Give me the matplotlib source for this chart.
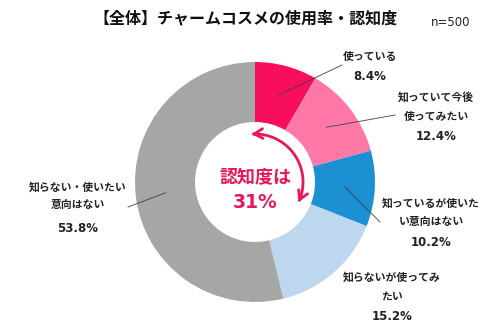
import numpy as np
import matplotlib.pyplot as plt
from matplotlib.patches import FancyArrowPatch
from matplotlib.path import Path

plt.rcParams['font.family'] = ['DejaVu Sans', 'Noto Sans CJK JP']

# data
categories = ['使っている', '知っていて今後使ってみたい', '知っているが使いたい意向はない',
              '知らないが使ってみたい', '知らない・使いたい意向はない']
shares = [8.4, 12.4, 10.2, 15.2, 53.8]
label_lines = [['使っている'], ['知っていて今後', '使ってみたい'], ['知っているが使いた', 'い意向はない'],
               ['知らないが使ってみ', 'たい'], ['知らない・使いたい', '意向はない']]
colors = ['#F80F5B', '#FF78A8', '#1D8FD3', '#BDD7EE', '#A6A6A6']
awareness = 31

W, H = 500, 330
cx, cy = 255, H - 182   # pie centre (pixels)
R = 120

fig = plt.figure(figsize=(5, 3.3), dpi=100)
ax = fig.add_axes([0, 0, 1, 1])

wedges, _ = ax.pie(shares, colors=colors, startangle=90, counterclock=False,
                   center=(cx, cy), radius=R,
                   wedgeprops=dict(width=R * 0.5, linewidth=0))
ax.set_xlim(0, W)
ax.set_ylim(0, H)
ax.set_aspect('equal')
ax.axis('off')

# label placement (x centre, line ys in image px), leader end or None
label_pos = [(370, [57, 77], (342, 65)),
             (436, [97, 117, 137], (395, 115)),
             (431, [203, 222.5, 242], (380, 222)),
             (392, [277, 297, 317], None),
             (78, [187, 205, 228], (128, 207))]

txt_col = '#222222'
for w, lines, val, (lx, ys, lead) in zip(wedges, label_lines, shares, label_pos):
    for s, y in zip(lines, ys[:-1]):
        ax.text(lx, H - y, s, ha='center', va='center', fontsize=7.8,
                fontweight='bold', color=txt_col)
    ax.text(lx, H - ys[-1], f'{val}%', ha='center', va='center', fontsize=8.5,
            fontweight='bold', color=txt_col)
    if lead is not None:
        mid = np.deg2rad((w.theta1 + w.theta2) / 2)
        sx, sy = cx + 0.75 * R * np.cos(mid), cy + 0.75 * R * np.sin(mid)
        ax.plot([sx, lead[0]], [sy, H - lead[1]], color='#404040', lw=0.6)

# centre text
accent = '#E8175D'
ax.text(cx, H - 178, '認知度は', ha='center', va='center', fontsize=13,
        fontweight='bold', color=accent)
ax.text(cx, H - 202, f'{awareness}%', ha='center', va='center', fontsize=13.5,
        fontweight='bold', color=accent)

# curved double arrow over the aware share
a_start = wedges[0].theta2 + 4
a_end = wedges[2].theta1 - 3
t = np.deg2rad(np.linspace(a_start, a_end, 60))
ra = 48
arc = Path(np.column_stack([cx + ra * np.cos(t), cy + ra * np.sin(t)]))
ax.add_patch(FancyArrowPatch(path=arc, arrowstyle='<->,head_length=6,head_width=3.5',
                             color=accent, lw=2))

# title
ax.text(246, H - 18, '【全体】チャームコスメの使用率・認知度', ha='center', va='center',
        fontsize=11.5, fontweight='bold', color='#111111')
ax.text(451, H - 22, 'n=500', ha='center', va='center', fontsize=8.5, color='#222222')

fig.savefig('out.png', dpi=100)
